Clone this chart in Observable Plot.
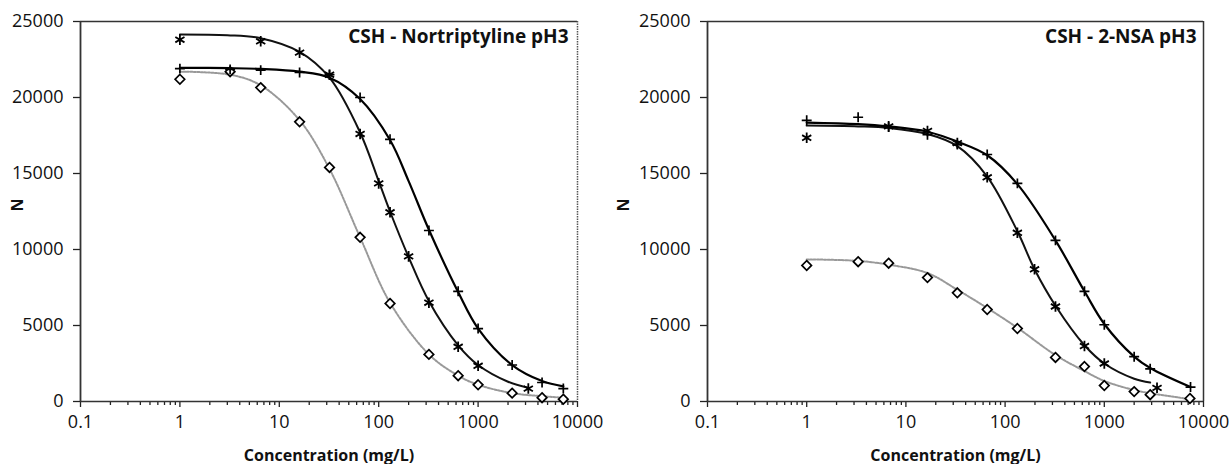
<!DOCTYPE html>
<html>
<head>
<meta charset="utf-8">
<script src="https://cdn.jsdelivr.net/npm/d3@7"></script>
<script src="https://cdn.jsdelivr.net/npm/@observablehq/plot@0.6"></script>
<style>
  html, body { margin: 0; padding: 0; background: #fff; }
  #wrap { display: flex; width: 1230px; height: 464px; }
</style>
</head>
<body>
<div id="wrap"></div>
<script>
// ---------- Data ----------
const xTicks = [0.1, 1, 10, 100, 1000, 10000];
const yTicks = [0, 5000, 10000, 15000, 20000, 25000];
const titles = ["CSH - Nortriptyline pH3", "CSH - 2-NSA pH3"];
const xLabel = "Concentration (mg/L)";
const yLabel = "N";

// Left panel: Nortriptyline
const nortConcStar = [1, 6.5, 16, 32, 65, 100, 130, 200, 320, 630, 1000, 3200];
const nortStar     = [23800, 23700, 22950, 21500, 17600, 14350, 12450, 9550, 6500, 3600, 2350, 850];
const nortConcPlus = [1, 3.2, 6.5, 16, 32, 65, 130, 320, 630, 1000, 2200, 4400, 7200];
const nortPlus     = [21900, 21850, 21800, 21650, 21500, 20000, 17250, 11250, 7250, 4800, 2400, 1250, 850];
const nortConcDiam = [1, 3.2, 6.5, 16, 32, 65, 130, 320, 630, 1000, 2200, 4400, 7200];
const nortDiam     = [21200, 21700, 20650, 18400, 15400, 10800, 6450, 3100, 1700, 1100, 550, 250, 150];
// fitted curves
const nortFitStarX = [1, 3, 6.5, 16, 32, 65, 100, 130, 200, 320, 630, 1000, 2000, 3200];
const nortFitStarY = [24150, 24100, 23900, 23000, 21300, 17700, 14500, 12500, 9500, 6600, 3700, 2400, 1300, 900];
const nortFitPlusX = [1, 3.2, 6.5, 16, 32, 65, 130, 200, 320, 630, 1000, 2200, 4400, 7200];
const nortFitPlusY = [21950, 21930, 21880, 21700, 21300, 19900, 17200, 14500, 11300, 7200, 4800, 2400, 1350, 1000];
const nortFitDiamX = [1, 3.2, 6.5, 16, 32, 65, 130, 320, 630, 1000, 2200, 4400, 7200];
const nortFitDiamY = [21700, 21500, 20800, 18500, 15300, 10800, 6500, 3100, 1700, 1100, 550, 350, 250];

// Right panel: 2-NSA
const nsaConcStar = [1, 6.7, 16.5, 33, 66, 133, 198, 322, 631, 1000, 3400];
const nsaStar     = [17350, 18100, 17800, 17000, 14750, 11100, 8700, 6250, 3650, 2500, 900];
const nsaConcPlus = [1, 3.3, 6.7, 16.5, 33, 66, 133, 322, 631, 1000, 2000, 2900, 7400];
const nsaPlus     = [18500, 18700, 18050, 17550, 16900, 16250, 14350, 10600, 7250, 5050, 2950, 2150, 950];
const nsaConcDiam = [1, 3.3, 6.7, 16.5, 33, 66, 133, 322, 631, 1000, 2000, 2900, 7300];
const nsaDiam     = [8950, 9200, 9100, 8150, 7150, 6050, 4800, 2900, 2300, 1050, 650, 450, 200];
const nsaFitStarX = [1, 3.3, 6.7, 16.5, 33, 66, 133, 198, 322, 631, 1000, 2000, 2900];
const nsaFitStarY = [18150, 18100, 18000, 17600, 16800, 14800, 11200, 8700, 6300, 3700, 2500, 1500, 1250];
const nsaFitPlusX = [1, 3.3, 6.7, 16.5, 33, 66, 133, 322, 631, 1000, 2000, 2900, 7400];
const nsaFitPlusY = [18350, 18250, 18100, 17750, 17100, 16200, 14300, 10600, 7250, 5100, 2950, 2200, 950];
const nsaFitDiamX = [1, 3.3, 6.7, 16.5, 33, 66, 133, 322, 631, 1000, 2000, 2900, 7300];
const nsaFitDiamY = [9350, 9250, 9000, 8450, 7350, 6150, 4850, 3050, 2000, 1350, 750, 550, 150];

// ---------- helpers ----------
const zip = (xs, ys) => xs.map((x, i) => ({x, y: ys[i]}));
const minorTicks = [];
for (let d = 0; d < xTicks.length - 1; d++) for (let k = 2; k <= 9; k++) minorTicks.push(+(xTicks[d] * k).toPrecision(3));

const FONT = "'Open Sans', sans-serif";

function panel(opts) {
  const {title, star, plus, diam, fitStar, fitPlus, fitDiam, marginLeft, marginRight, labelDx, rightDotted, titleDx} = opts;
  return Plot.plot({
    width: 615, height: 464,
    marginLeft, marginRight, marginTop: 21, marginBottom: 63,
    style: {fontFamily: FONT, fontSize: "18px", color: "#111", background: "white", overflow: "visible"},
    x: {type: "log", domain: [0.1, 10000], axis: null},
    y: {domain: [0, 25000], axis: null},
    marks: [
      // frame
      Plot.ruleY([25000], {stroke: "#333", strokeWidth: 1.5}),
      Plot.ruleX([10000], rightDotted ? {stroke: "#555", strokeWidth: 1.5, strokeDasharray: "1.5,1"} : {stroke: "#333", strokeWidth: 1.5}),
      // axes
      Plot.axisX({ticks: minorTicks, tickSize: 4, tickFormat: () => "", stroke: "#222", strokeWidth: 1.3, label: null}),
      Plot.axisX({ticks: xTicks, tickSize: 6, tickPadding: 8, tickFormat: d => String(d), stroke: "#222", strokeWidth: 1.3, fontSize: 18, fill: "#111", label: null}),
      Plot.axisY({ticks: yTicks, tickSize: 7, tickPadding: 10, tickFormat: d => String(d), stroke: "#222", strokeWidth: 1.3, fontSize: 18, fill: "#111", label: null}),
      Plot.ruleY([0], {stroke: "#333", strokeWidth: 1.5}),
      Plot.ruleX([0.1], {stroke: "#333", strokeWidth: 1.8}),
      // fitted curves
      Plot.line(fitDiam, {x: "x", y: "y", curve: "catmull-rom", stroke: "#999", strokeWidth: 2, strokeDasharray: "2,1.5"}),
      Plot.line(fitStar, {x: "x", y: "y", curve: "catmull-rom", stroke: "#111", strokeWidth: 2}),
      Plot.line(fitPlus, {x: "x", y: "y", curve: "catmull-rom", stroke: "#000", strokeWidth: 2.2}),
      // markers
      Plot.dot(diam, {x: "x", y: "y", symbol: "diamond2", r: 4.3, stroke: "#000", fill: "white", strokeWidth: 1.7}),
      Plot.dot(star, {x: "x", y: "y", symbol: "asterisk", r: 5, stroke: "#000", strokeWidth: 1.8}),
      Plot.dot(plus, {x: "x", y: "y", symbol: "plus", r: 3.3, stroke: "#000", strokeWidth: 1.7}),
      // title inside
      Plot.text([title], {frameAnchor: "top-right", text: d => d, dx: titleDx, dy: 8, lineAnchor: "top", textAnchor: "end", fontWeight: "bold", fontSize: 19, fill: "#111"}),
      // axis titles
      Plot.text([xLabel], {frameAnchor: "bottom", text: d => d, dy: 54, lineAnchor: "middle", fontWeight: "bold", fontSize: 16, fill: "#111"}),
      Plot.text([yLabel], {frameAnchor: "left", text: d => d, dx: labelDx, rotate: -90, lineAnchor: "middle", fontWeight: "bold", fontSize: 16, fill: "#111"})
    ]
  });
}

const wrap = document.getElementById("wrap");
wrap.appendChild(panel({
  title: titles[0],
  star: zip(nortConcStar, nortStar), plus: zip(nortConcPlus, nortPlus), diam: zip(nortConcDiam, nortDiam),
  fitStar: zip(nortFitStarX, nortFitStarY), fitPlus: zip(nortFitPlusX, nortFitPlusY), fitDiam: zip(nortFitDiamX, nortFitDiamY),
  marginLeft: 80, marginRight: 38, labelDx: -63, rightDotted: true, titleDx: -9
}));
wrap.appendChild(panel({
  title: titles[1],
  star: zip(nsaConcStar, nsaStar), plus: zip(nsaConcPlus, nsaPlus), diam: zip(nsaConcDiam, nsaDiam),
  fitStar: zip(nsaFitStarX, nsaFitStarY), fitPlus: zip(nsaFitPlusX, nsaFitPlusY), fitDiam: zip(nsaFitDiamX, nsaFitDiamY),
  marginLeft: 92, marginRight: 27, labelDx: -84, rightDotted: false, titleDx: -7
}));
</script>
</body>
</html>
